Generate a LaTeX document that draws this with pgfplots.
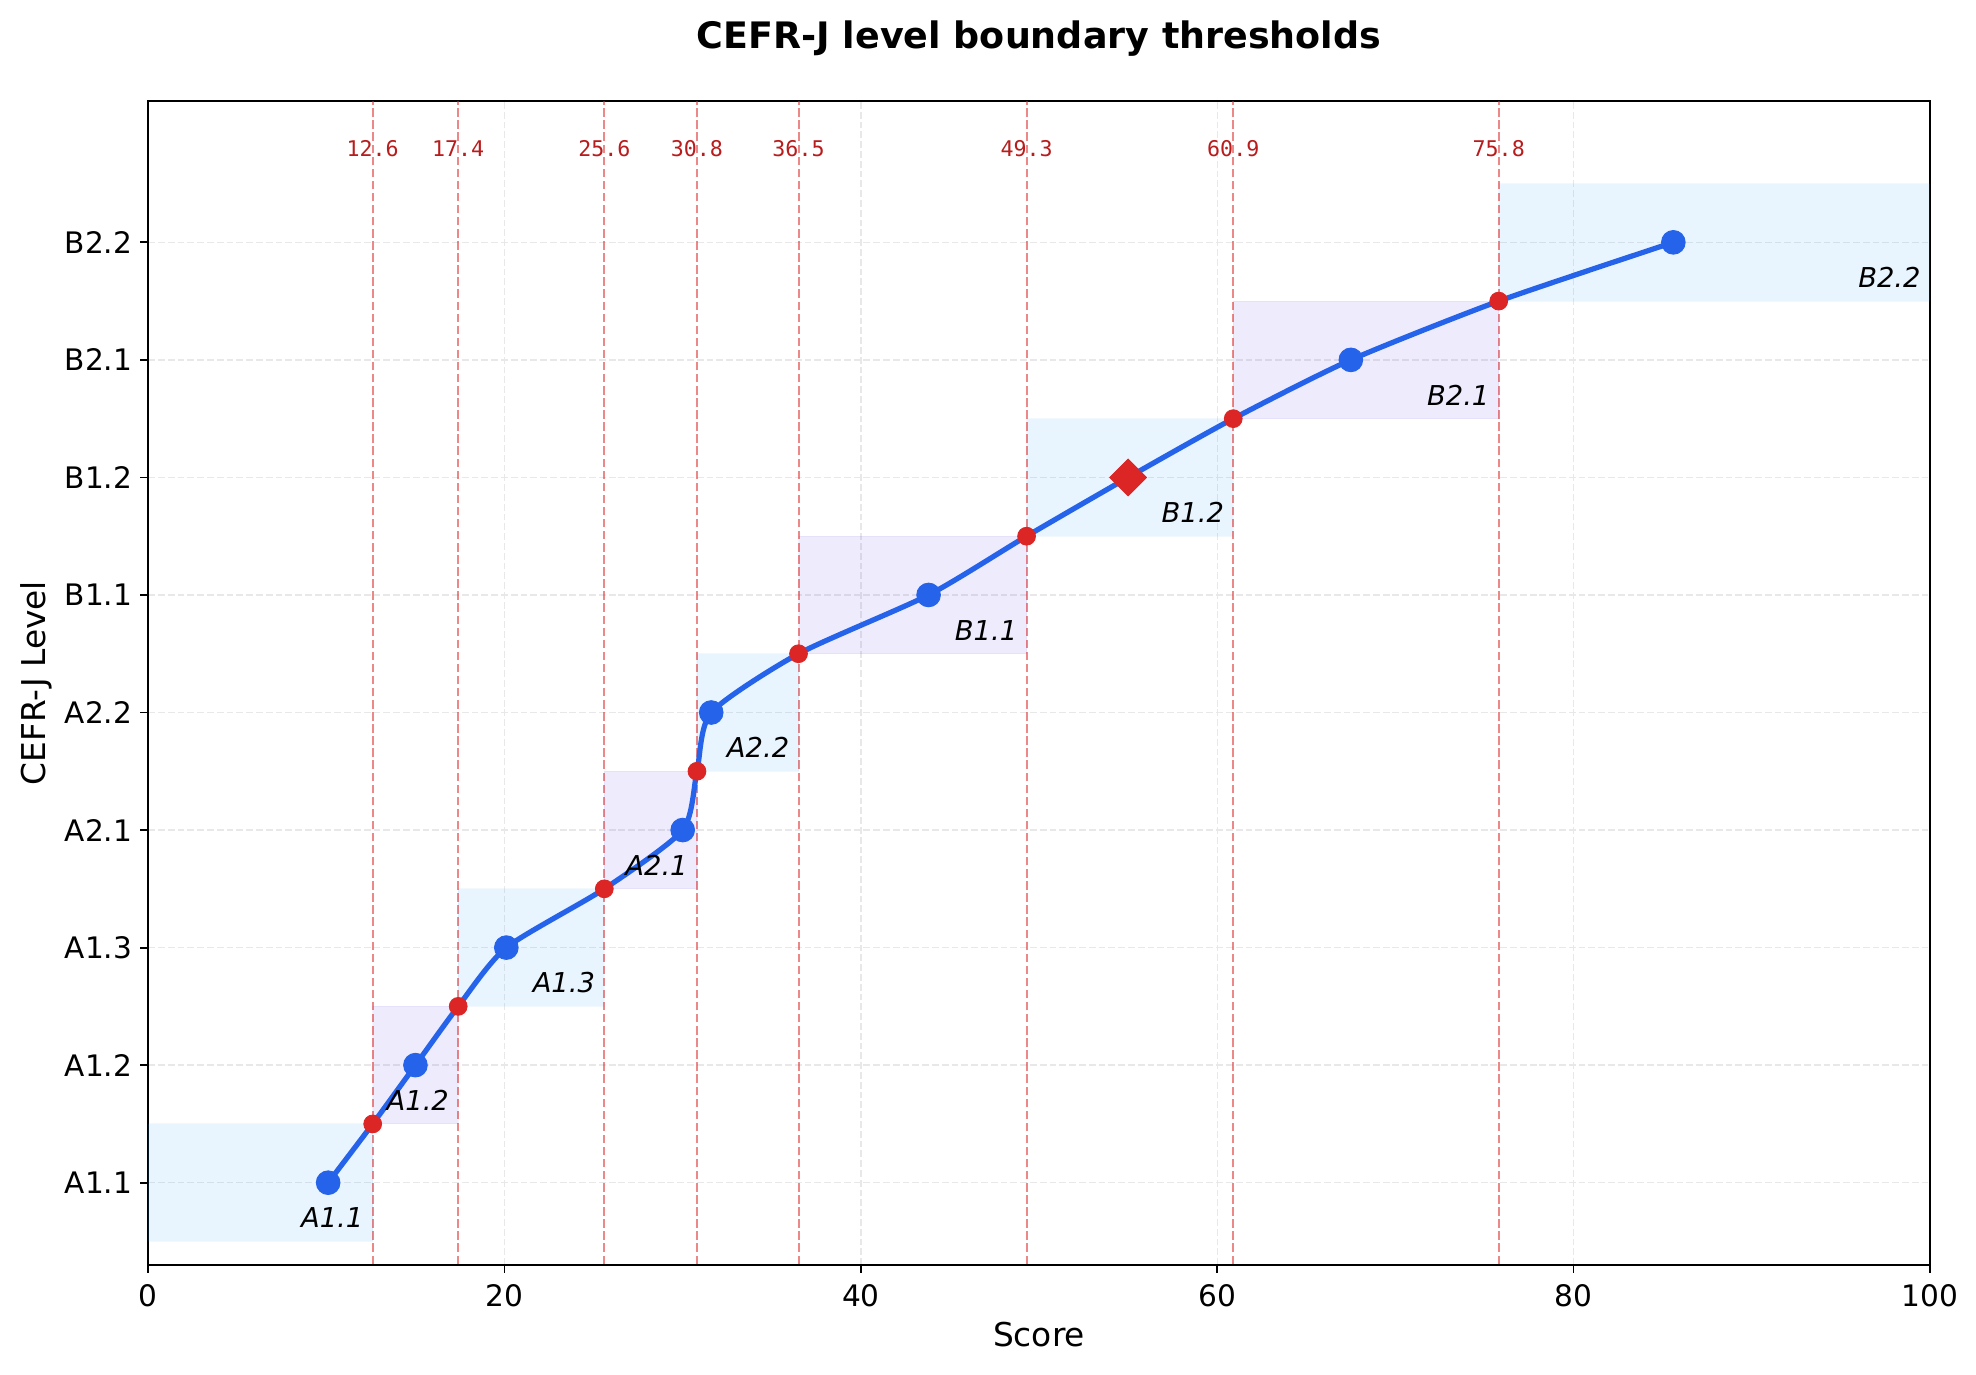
\documentclass[border=0pt]{standalone}
\usepackage{fontspec}
\setmainfont{DejaVu Sans}
\setmonofont{DejaVu Sans Mono}
\usepackage{pgfplots}
\pgfplotsset{compat=1.18}

\definecolor{curveblue}{HTML}{2563EB}
\definecolor{dotred}{HTML}{DC2626}
\definecolor{bandblue}{RGB}{33,150,243}
\definecolor{bandlav}{RGB}{90,60,230}
\definecolor{labred}{RGB}{185,28,28}

\pgfplotsset{
  band/.style={draw=#1, draw opacity=0.06, line width=0.5pt, fill=#1, fill opacity=0.1},
}

\begin{document}
\begin{tikzpicture}
\path[use as bounding box] (0,0) rectangle (12in,8.35in);
\begin{axis}[
  at={(0.9in,0.668in)}, anchor=south west,
  width=10.82in, height=7.067in, scale only axis,
  xmin=0, xmax=100, ymin=-0.7, ymax=9.2,
  xtick={0,20,...,100},
  ytick={0,...,8},
  yticklabels={A1.1,A1.2,A1.3,A2.1,A2.2,B1.1,B1.2,B2.1,B2.2},
  tick align=outside, tick pos=left,
  major tick length=3.5pt,
  tick style={black, line width=0.8pt},
  axis line style={line width=0.8pt},
  /pgf/number format/assume math mode=true,
  ticklabel style={font=\fontsize{13}{15}\selectfont},
  xticklabel style={yshift=-1.5pt},
  grid=major,
  grid style={dash pattern=on 3pt off 1.3pt, line width=0.6pt, black!9},
  title={CEFR-J level boundary thresholds},
  title style={font=\fontsize{16}{19}\selectfont\bfseries, at={(axis description cs:0.5,1.0338)}, anchor=base, yshift=0pt},
  xlabel={Score},
  xlabel style={font=\fontsize{14.4}{17}\selectfont, at={(axis description cs:0.5,-0.0704)}, anchor=base},
  ylabel={CEFR-J Level},
  ylabel style={font=\fontsize{14.4}{17}\selectfont, at={(axis description cs:-0.0574,0.5)}, anchor=base},
]

% level bands (score range x level +/- 0.5)
\addplot[band=bandblue] coordinates {(0,-0.5) (12.6,-0.5) (12.6,0.5) (0,0.5)} -- cycle;
\addplot[band=bandlav]  coordinates {(12.6,0.5) (17.4,0.5) (17.4,1.5) (12.6,1.5)} -- cycle;
\addplot[band=bandblue] coordinates {(17.4,1.5) (25.6,1.5) (25.6,2.5) (17.4,2.5)} -- cycle;
\addplot[band=bandlav]  coordinates {(25.6,2.5) (30.8,2.5) (30.8,3.5) (25.6,3.5)} -- cycle;
\addplot[band=bandblue] coordinates {(30.8,3.5) (36.5,3.5) (36.5,4.5) (30.8,4.5)} -- cycle;
\addplot[band=bandlav]  coordinates {(36.5,4.5) (49.3,4.5) (49.3,5.5) (36.5,5.5)} -- cycle;
\addplot[band=bandblue] coordinates {(49.3,5.5) (60.9,5.5) (60.9,6.5) (49.3,6.5)} -- cycle;
\addplot[band=bandlav]  coordinates {(60.9,6.5) (75.8,6.5) (75.8,7.5) (60.9,7.5)} -- cycle;
\addplot[band=bandblue] coordinates {(75.8,7.5) (100,7.5) (100,8.5) (75.8,8.5)} -- cycle;

% threshold lines
\addplot[dotred, draw opacity=0.55, line width=0.9pt, dash pattern=on 3.7pt off 1.6pt, unbounded coords=jump] table {
x y
12.6 -1
12.6 10
nan nan
17.4 -1
17.4 10
nan nan
25.6 -1
25.6 10
nan nan
30.8 -1
30.8 10
nan nan
36.5 -1
36.5 10
nan nan
49.3 -1
49.3 10
nan nan
60.9 -1
60.9 10
nan nan
75.8 -1
75.8 10
};

% threshold labels
\addplot[draw=none, mark=none, nodes near coords, point meta=explicit symbolic,
  nodes near coords style={anchor=center, text=labred, font=\ttfamily\fontsize{9.5}{11}\selectfont}]
  table[meta=lab] {
x y lab
12.6 8.8 12.6
17.4 8.8 17.4
25.6 8.8 25.6
30.8 8.8 30.8
36.5 8.8 36.5
49.3 8.8 49.3
60.9 8.8 60.9
75.8 8.8 75.8
};

% mapping curve
\addplot[curveblue, line width=2.3pt, smooth, tension=0.4] coordinates {
(10.1,0) (12.6,0.5) (15.0,1) (17.4,1.5) (20.1,2) (25.6,2.5) (30.0,3) (30.8,3.5)
(31.6,4) (36.5,4.5) (43.8,5) (49.3,5.5) (55.0,6) (60.9,6.5) (67.5,7) (75.8,7.5) (85.6,8)
};

% level centres
\addplot[only marks, mark=*, mark size=5.2pt, mark options={fill=curveblue, draw=curveblue}] coordinates {
(10.1,0) (15.0,1) (20.1,2) (30.0,3) (31.6,4) (43.8,5) (67.5,7) (85.6,8)
};

% boundary points
\addplot[only marks, mark=*, mark size=3.9pt, mark options={fill=dotred, draw=dotred}] coordinates {
(12.6,0.5) (17.4,1.5) (25.6,2.5) (30.8,3.5) (36.5,4.5) (49.3,5.5) (60.9,6.5) (75.8,7.5)
};

% current score
\addplot[only marks, mark=square*, mark size=5.7pt, mark options={fill=dotred, draw=dotred, rotate=45}] coordinates {
(55.0,6)
};

% level labels
\addplot[draw=none, mark=none, nodes near coords, point meta=explicit symbolic,
  nodes near coords style={anchor=east, inner sep=0pt, font=\fontsize{12}{14}\selectfont\itshape}]
  table[meta=lab] {
x y lab
12.1 -0.3 A1.1
16.9 0.7 A1.2
25.1 1.7 A1.3
30.3 2.7 A2.1
36.0 3.7 A2.2
48.8 4.7 B1.1
60.4 5.7 B1.2
75.3 6.7 B2.1
99.5 7.7 B2.2
};
\end{axis}
\end{tikzpicture}
\end{document}
